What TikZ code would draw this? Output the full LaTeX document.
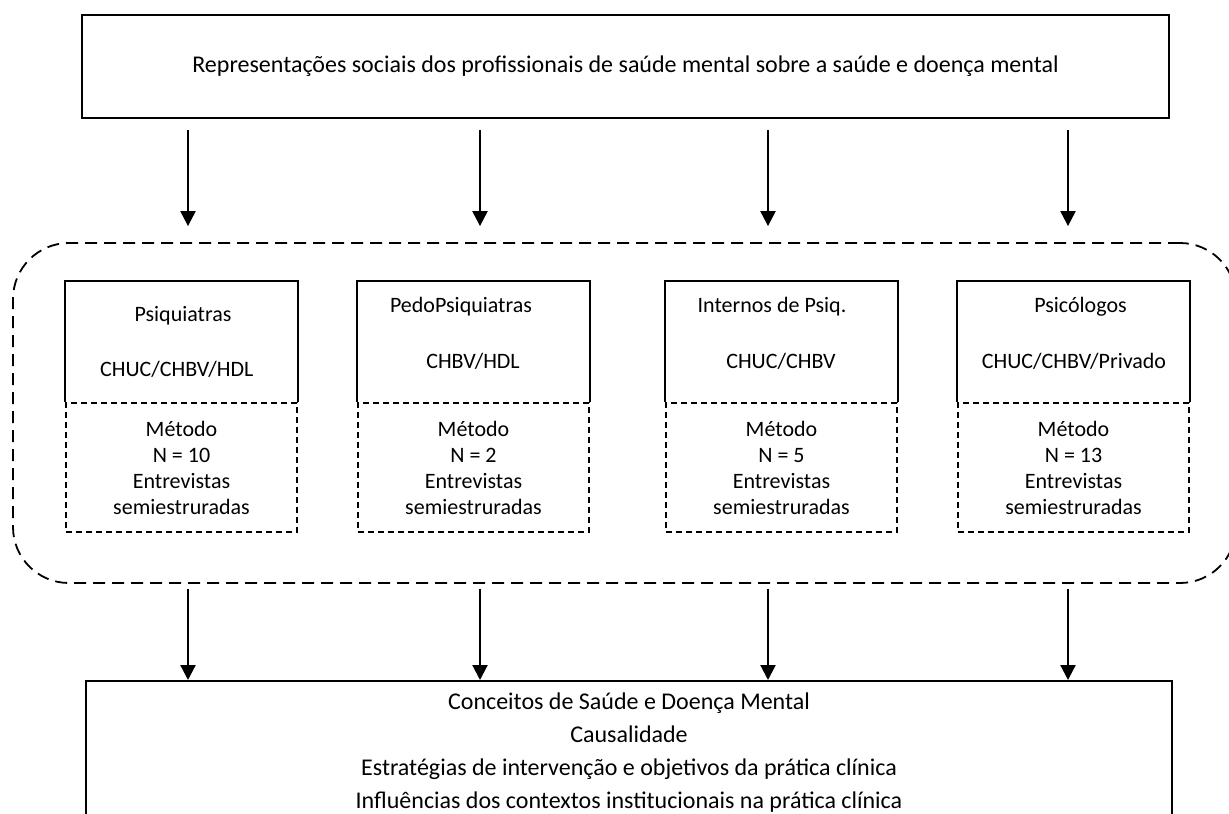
\documentclass[tikz,border=0pt]{standalone}
\usepackage{fontspec}
\setmainfont{Carlito}
\usetikzlibrary{arrows.meta,calc}

\begin{document}
\begin{tikzpicture}[x=0.5pt, y=-0.5pt, >={Triangle[length=7.5pt,width=7.5pt]},
	every node/.style={font=\fontsize{11}{13}\selectfont, inner sep=0pt},
	topbox/.style={draw, line width=1pt, minimum width=543.5pt, minimum height=51.5pt, font=\fontsize{12}{14}\selectfont},
	groupbox/.style={draw, line width=0.9pt, dash pattern=on 6pt off 3.5pt, rounded corners=28pt, minimum width=611.5pt, minimum height=170pt},
	methodbox/.style={draw, line width=0.8pt, dash pattern=on 3pt off 2pt, minimum width=115.5pt, minimum height=64.5pt, align=center},
	resultbox/.style={draw, line width=1pt, minimum width=543pt, inner ysep=6pt, anchor=north, align=center, font=\fontsize{12}{16.5}\selectfont},
	link/.style={->, line width=1.1pt}]
			\useasboundingbox (0,0) rectangle (1229,813);
			\node[topbox] (top) at (625.5,66.5) {Representações sociais dos profissionais de saúde mental sobre a saúde e doença mental};
			\node[groupbox] (grp) at (624.5,413) {};
			% the four groups
			\node[methodbox] (m1) at (181.5,467.5) {Método\\N = 10\\Entrevistas\\semiestruradas};
			\node[methodbox] (m2) at (473.5,467.5) {Método\\N = 2\\Entrevistas\\semiestruradas};
			\node[methodbox] (m3) at (781.5,467.5) {Método\\N = 5\\Entrevistas\\semiestruradas};
			\node[methodbox] (m4) at (1073.5,467.5) {Método\\N = 13\\Entrevistas\\semiestruradas};
			\foreach \m in {m1,m2,m3,m4}
				\draw[line width=0.9pt] (\m.north west) -- ++(0,-121) -| (\m.north east);
			\node (t1) at (183,316) {Psiquiatras};
			\node (t2) at (461,307) {PedoPsiquiatras};
			\node (t3) at (772,307) {Internos de Psiq.};
			\node (t4) at (1080.5,307) {Psicólogos};
			\node (h1) at (176.7,369) {CHUC/CHBV/HDL};
			\node (h2) at (473,361) {CHBV/HDL};
			\node (h3) at (781,361) {CHUC/CHBV};
			\node (h4) at (1074,361) {CHUC/CHBV/Privado};
			\node[resultbox] (res) at (629,680) {Conceitos de Saúde e Doença Mental\\Causalidade\\Estratégias de intervenção e objetivos da prática clínica\\Influências dos contextos institucionais na prática clínica};
			% arrows
			\coordinate (a1) at (188,0);
			\coordinate (a2) at (480,0);
			\coordinate (a3) at (768,0);
			\coordinate (a4) at (1068,0);
			\foreach \a in {a1,a2,a3,a4} {
				\draw[link] ($(top.south -| \a)+(0,11)$) -- ($(grp.north -| \a)+(0,-16)$);
				\draw[link] ($(grp.south -| \a)+(0,5)$) -- (res.north -| \a);
			}
		\end{tikzpicture}
\end{document}
